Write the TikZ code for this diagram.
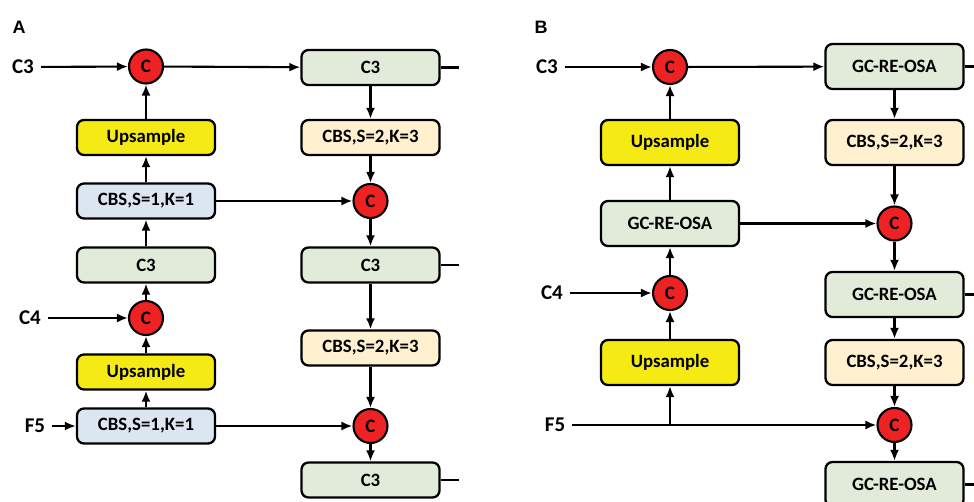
\documentclass[tikz,border=0pt]{standalone}
\usepackage{fontspec}
\setmainfont{Carlito}
\newfontfamily\panelfont{Liberation Sans}
\usetikzlibrary{arrows.meta}
\definecolor{boxgreen}{HTML}{E2EBDA}
\definecolor{boxblue}{HTML}{DCE6F1}
\definecolor{boxpeach}{HTML}{FFF1D0}
\definecolor{boxyellow}{HTML}{F5EA14}
\definecolor{catred}{HTML}{EE2222}
\begin{document}
\begin{tikzpicture}[x=1pt,y=-1pt,
  blk/.style={draw=black, line width=2.3pt, rounded corners=7pt,
    minimum width=138pt, minimum height=35pt, inner sep=0pt,
    font=\fontsize{18.8}{20}\selectfont\bfseries},
  tall/.style={minimum height=45pt},
  cat/.style={circle, draw=black, line width=2.1pt, fill=catred,
    minimum size=34pt, inner sep=0pt,
    font=\fontsize{19}{21}\selectfont\bfseries},
  lab/.style={font=\fontsize{21}{23}\selectfont\bfseries,
    inner xsep=7pt, inner ysep=0pt},
  panel/.style={font=\panelfont\fontsize{18}{20}\selectfont\bfseries, inner sep=0pt},
  conn/.style={line width=2.1pt, -{Latex[length=11pt,width=9pt]}},
  tail/.style={line width=2.1pt},
]
\clip (0,0) rectangle (974,502);

% ---------------- panel A ----------------
\node[panel] (pa) at (19,27) {A};
\node[lab] (a3) at (23,67) {C3};
\node[cat] (ac1) at (146,66.5) {C};
\node[blk,fill=boxgreen] (ar1) at (370.5,67.5) {C3};
\node[blk,fill=boxyellow] (au1) at (146,137.5) {Upsample};
\node[blk,fill=boxpeach] (ar2) at (370.5,137.5) {CBS,S=2,K=3};
\node[blk,fill=boxblue] (ab1) at (146,201) {CBS,S=1,K=1};
\node[cat] (ac2) at (370.5,201) {C};
\node[blk,fill=boxgreen] (ag) at (146,265) {C3};
\node[blk,fill=boxgreen] (ar3) at (370.5,265) {C3};
\node[lab] (a4) at (30,318) {C4};
\node[cat] (ac3) at (146,318) {C};
\node[blk,fill=boxpeach] (ar4) at (370.5,348) {CBS,S=2,K=3};
\node[blk,fill=boxyellow] (au2) at (146,372) {Upsample};
\node[lab] (a5) at (35,426) {F5};
\node[blk,fill=boxblue] (ab2) at (146,426) {CBS,S=1,K=1};
\node[cat] (ac4) at (370.5,426) {C};
\node[blk,fill=boxgreen] (ar5) at (370.5,480) {C3};
\coordinate (ao1) at (459,67.5);
\coordinate (ao3) at (459,265);
\coordinate (ao5) at (459,480);

\draw[conn] (a3) -- (ac1);
\draw[conn] (ac1) -- (ar1);
\draw[conn] (ar1) -- (ar2);
\draw[conn] (ar2) -- (ac2);
\draw[conn] (ac2) -- (ar3);
\draw[conn] (ar3) -- (ar4);
\draw[conn] (ar4) -- (ac4);
\draw[conn] (ac4) -- (ar5);
\draw[conn] (a5) -- (ab2);
\draw[conn] (ab2) -- (au2);
\draw[conn] (au2) -- (ac3);
\draw[conn] (a4) -- (ac3);
\draw[conn] (ac3) -- (ag);
\draw[conn] (ag) -- (ab1);
\draw[conn] (ab1) -- (au1);
\draw[conn] (au1) -- (ac1);
\draw[conn] (ab1) -- (ac2);
\draw[conn] (ab2) -- (ac4);
\draw[tail] (ar1) -- (ao1);
\draw[tail] (ar3) -- (ao3);
\draw[tail] (ar5) -- (ao5);

% ---------------- panel B ----------------
\node[panel] (pb) at (541,27) {B};
\node[lab] (b3) at (547,67) {C3};
\node[cat] (bc1) at (670,67) {C};
\node[blk,tall,fill=boxgreen] (br1) at (894.5,66.5) {GC-RE-OSA};
\node[blk,tall,fill=boxyellow] (bu1) at (670,142.5) {Upsample};
\node[blk,tall,fill=boxpeach] (br2) at (894.5,142.5) {CBS,S=2,K=3};
\node[blk,tall,fill=boxgreen] (bg) at (670,223.5) {GC-RE-OSA};
\node[cat] (bc2) at (894.5,223.5) {C};
\node[lab] (b4) at (552,293) {C4};
\node[cat] (bc3) at (670,293) {C};
\node[blk,tall,fill=boxgreen] (br3) at (894.5,294.5) {GC-RE-OSA};
\node[blk,tall,fill=boxyellow] (bu2) at (670,362.5) {Upsample};
\node[blk,tall,fill=boxpeach] (br4) at (894.5,362.5) {CBS,S=2,K=3};
\node[lab] (b5) at (555,425) {F5};
\coordinate (bj) at (670,425);
\node[cat] (bc4) at (894.5,425) {C};
\node[blk,tall,fill=boxgreen] (br5) at (894.5,484.5) {GC-RE-OSA};
\coordinate (bo1) at (974,66.5);
\coordinate (bo3) at (974,294.5);
\coordinate (bo5) at (974,484.5);

\draw[conn] (b3) -- (bc1);
\draw[conn] (bc1) -- (br1);
\draw[conn] (br1) -- (br2);
\draw[conn] (br2) -- (bc2);
\draw[conn] (bc2) -- (br3);
\draw[conn] (br3) -- (br4);
\draw[conn] (br4) -- (bc4);
\draw[conn] (bc4) -- (br5);
\draw[conn] (b5) -- (bc4);
\draw[conn] (bj) -- (bu2);
\draw[conn] (bu2) -- (bc3);
\draw[conn] (b4) -- (bc3);
\draw[conn] (bc3) -- (bg);
\draw[conn] (bg) -- (bu1);
\draw[conn] (bu1) -- (bc1);
\draw[conn] (bg) -- (bc2);
\draw[tail] (br1) -- (bo1);
\draw[tail] (br3) -- (bo3);
\draw[tail] (br5) -- (bo5);
\end{tikzpicture}
\end{document}
